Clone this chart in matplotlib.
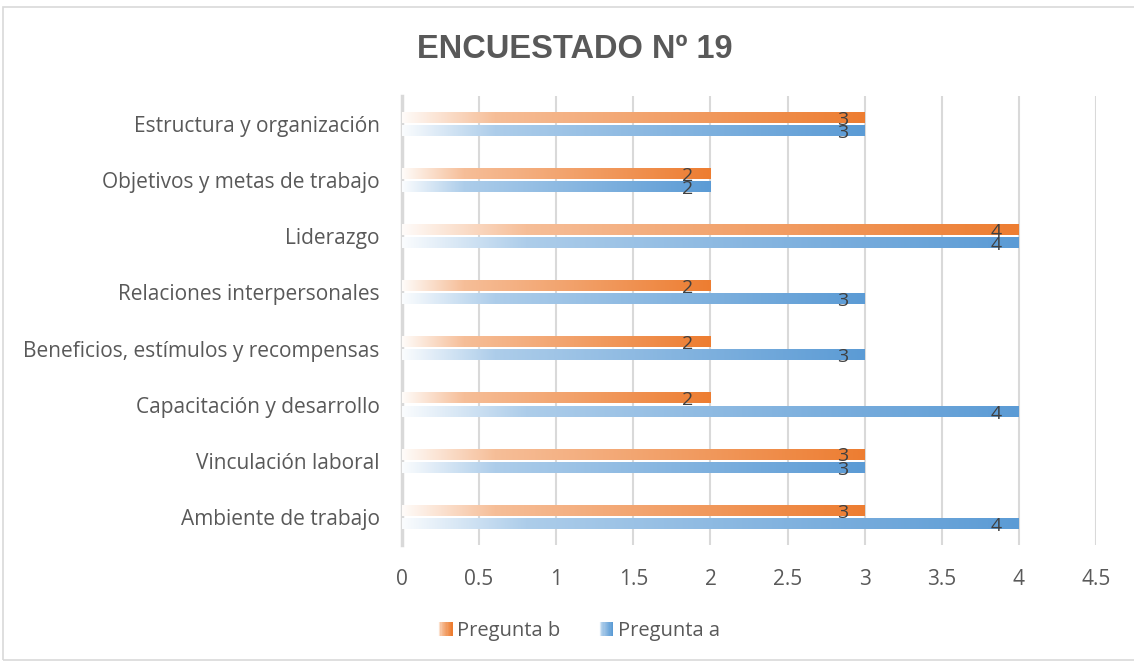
import numpy as np
import matplotlib
matplotlib.use("Agg")
import matplotlib.pyplot as plt
from matplotlib.patches import Rectangle
from matplotlib.legend_handler import HandlerBase
from matplotlib.colors import to_rgb

categories = ["Ambiente de trabajo", "Vinculación laboral", "Capacitación y desarrollo",
              "Beneficios, estímulos y recompensas", "Relaciones interpersonales",
              "Liderazgo", "Objetivos y metas de trabajo", "Estructura y organización"]
pregunta_a = [4, 3, 4, 3, 3, 4, 2, 3]
pregunta_b = [3, 3, 2, 2, 2, 4, 2, 3]
series_names = ["Pregunta b", "Pregunta a"]
xticks = [0, 0.5, 1, 1.5, 2, 2.5, 3, 3.5, 4, 4.5]
title = "ENCUESTADO Nº 19"

ORANGE = "#ED7D31"
BLUE = "#5B9BD5"
GRAY_TXT = "#595959"

plt.rcParams['font.family'] = ['Open Sans', 'DejaVu Sans']

fig = plt.figure(figsize=(11.34, 6.63), dpi=100)
fig.patches.append(Rectangle((3/1134, 3/663), 1.0, 1 - 10/663, transform=fig.transFigure,
                             fill=False, edgecolor="#D9D9D9", linewidth=1.2))
ax = fig.add_axes([402/1134, 1 - 545/663, (1096 - 402)/1134, (545 - 96)/663])


def grad_image(color, n=256):
    t = np.linspace(0, 1, n)
    f = np.interp(t, [0, 0.2, 1.0], [0.03, 0.5, 1.0])
    c = np.array(to_rgb(color))
    w = np.ones(3)
    img = (w[None, :] * (1 - f[:, None]) + c[None, :] * f[:, None])
    return img[None, :, :]


h = 0.19
gap = 0.045
y = np.arange(len(categories))
for i in range(len(categories)):
    yb = y[i] + gap / 2 + h / 2
    ya = y[i] - gap / 2 - h / 2
    for val, yc, col in [(pregunta_b[i], yb, ORANGE), (pregunta_a[i], ya, BLUE)]:
        ax.imshow(grad_image(col), extent=[0, val, yc - h / 2, yc + h / 2],
                  aspect='auto', interpolation='bilinear', zorder=3)
        ax.text(val - 0.145, yc - 0.04, str(val), ha='center', va='center',
                fontsize=14, color="#404040", zorder=4)

ax.set_xlim(0, 4.5)
ax.set_ylim(-0.5, len(categories) - 0.5)
ax.set_xticks(xticks)
ax.set_xticklabels([f"{v:g}" for v in xticks])
ax.set_yticks(y)
ax.set_yticklabels(categories)
ax.tick_params(axis='both', length=0, labelsize=15, labelcolor=GRAY_TXT)
ax.tick_params(axis='x', pad=17)
ax.tick_params(axis='y', pad=16)
ax.grid(axis='x', color="#D9D9D9", linewidth=1.5, zorder=0)
ax.set_axisbelow(True)
for s in ['top', 'right', 'bottom']:
    ax.spines[s].set_visible(False)
ax.spines['left'].set_color("#D9D9D9")
ax.spines['left'].set_linewidth(2.5)

fig.text(575/1134, 1 - 50/663, title, ha='center', va='center', fontsize=23.5,
         fontweight='bold', color=GRAY_TXT,
         family=['Liberation Sans', 'DejaVu Sans'])


class GradHandler(HandlerBase):
    def __init__(self, color):
        super().__init__()
        self.color = color

    def create_artists(self, legend, orig_handle, xdescent, ydescent, width, height, fontsize, trans):
        img = grad_image(self.color)[0]
        n = 12
        arts = []
        side = height * 1.0
        x0 = width - side
        for k in range(n):
            c = img[int(k / (n - 1) * 255) if k < n - 1 else 255]
            r = Rectangle((x0 - xdescent + k * side / n, -ydescent + (height - side) / 2),
                          side / n + 0.3, side, facecolor=c, edgecolor='none', transform=trans)
            arts.append(r)
        return arts


hb = Rectangle((0, 0), 1, 1)
ha = Rectangle((0, 0), 1, 1, label="a")
leg = fig.legend([hb, ha], series_names, loc='center', bbox_to_anchor=(578/1134, 1 - 631/663),
                 ncol=2, frameon=False, fontsize=14.5, labelcolor=GRAY_TXT,
                 handler_map={hb: GradHandler(ORANGE), ha: GradHandler(BLUE)},
                 handlelength=0.8, handletextpad=0.25, columnspacing=1.8)

fig.savefig("out.png", dpi=100)
